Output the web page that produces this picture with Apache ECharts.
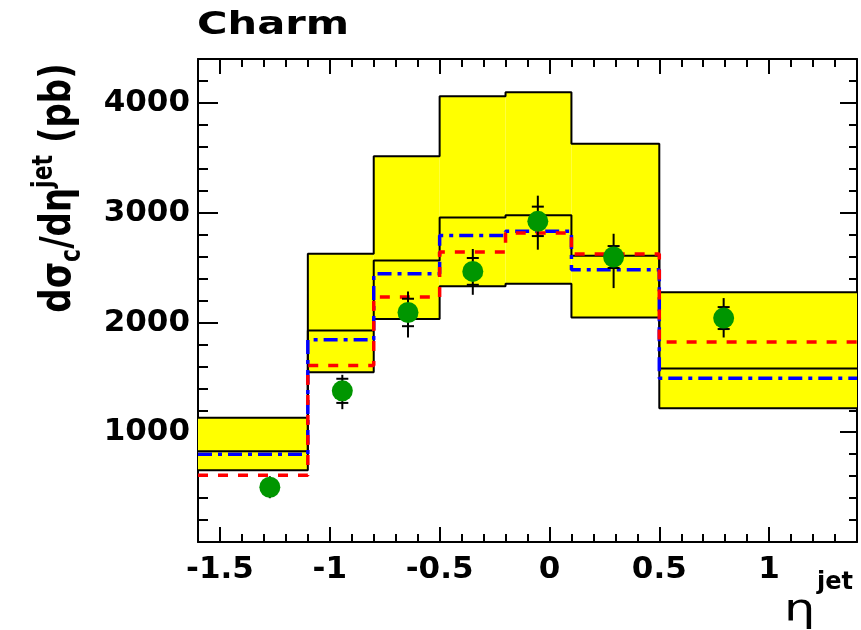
<!DOCTYPE html>
<html>
<head>
<meta charset="utf-8">
<script src="https://cdn.jsdelivr.net/npm/echarts@6/dist/echarts.min.js"></script>
<style>
html,body{margin:0;padding:0;background:#fff;}
#chart{width:861px;height:630px;}
</style>
</head>
<body>
<div id="chart"></div>
<script>
// ---- data ----
const binEdges     = [-1.6, -1.1, -0.8, -0.5, -0.2, 0.1, 0.5, 1.4];
const bandUpper    = [1133, 2626, 3513, 4061, 4097, 3629, 2275];
const bandCentral  = [827, 1927, 2565, 2957, 2976, 2608, 1580];
const bandLower    = [654, 1547, 2031, 2330, 2352, 2046, 1219];
const blueDashDot  = [800, 1842, 2444, 2793, 2830, 2480, 1492];
const redDashed    = [608, 1608, 2231, 2641, 2815, 2623, 1821];

const dataX        = [-1.273, -0.943, -0.644, -0.349, -0.053, 0.292, 0.793];
const dataY        = [499, 1377, 2091, 2465, 2921, 2596, 2040];
const statErr      = [60, 110, 125, 122, 134, 100, 100];
const totErrUp     = [100, 146, 191, 204, 234, 212, 182];
const totErrDown   = [100, 167, 228, 213, 258, 283, 177];

const xTickLabels  = [-1.5, -1, -0.5, 0, 0.5, 1];
const yTickLabels  = [1000, 2000, 3000, 4000];

// ---- helpers ----
function stepPoints(vals) {
  const pts = vals.map((v, i) => [binEdges[i], v]);
  pts.push([binEdges[binEdges.length - 1], vals[vals.length - 1]]);
  return pts;
}
const bandData = bandUpper.map((u, i) => [binEdges[i], binEdges[i + 1], bandLower[i], u]);
const errData = dataX.map((x, i) => [x, dataY[i], statErr[i], totErrUp[i], totErrDown[i]]);
const pointData = dataX.map((x, i) => [x, dataY[i]]);

const FONT = 'DejaVu Sans';
const tickLabelStyle = {fontFamily: FONT, fontWeight: 'bold', fontSize: 31, color: '#000'};

function isIn(list, v) { return list.some(t => Math.abs(t - v) < 1e-6); }

const chart = echarts.init(document.getElementById('chart'), null, {renderer: 'canvas'});

const baseX = {
  type: 'value', min: -1.6, max: 1.4, gridIndex: 0,
  splitLine: {show: false}
};
const baseY = {
  type: 'value', min: 0, max: 4400, interval: 1000, gridIndex: 0,
  splitLine: {show: false}
};

chart.setOption({
  animation: false,
  backgroundColor: '#fff',
  grid: {left: 198, right: 4, top: 59, bottom: 88, containLabel: false},
  xAxis: [
    Object.assign({}, baseX, {
      position: 'bottom', interval: 0.1,
      axisLine: {show: true, onZero: false, lineStyle: {color: '#000', width: 2}},
      axisTick: {show: true, inside: true, length: 8, lineStyle: {color: '#000', width: 2}},
      axisLabel: Object.assign({show: true, margin: 12,
        formatter: v => isIn(xTickLabels, v) ? String(+v.toFixed(1)) : ''}, tickLabelStyle)
    }),
    Object.assign({}, baseX, {
      position: 'bottom',
      axisLine: {show: false, onZero: false},
      axisTick: {show: true, inside: true, length: 15, customValues: xTickLabels, lineStyle: {color: '#000', width: 2}},
      axisLabel: {show: false}
    }),
    Object.assign({}, baseX, {
      position: 'top', interval: 0.1,
      axisLine: {show: true, onZero: false, lineStyle: {color: '#000', width: 2}},
      axisTick: {show: true, inside: true, length: 8, lineStyle: {color: '#000', width: 2}},
      axisLabel: {show: false}
    }),
    Object.assign({}, baseX, {
      position: 'top',
      axisLine: {show: false, onZero: false},
      axisTick: {show: true, inside: true, length: 15, customValues: xTickLabels, lineStyle: {color: '#000', width: 2}},
      axisLabel: {show: false}
    })
  ],
  yAxis: [
    Object.assign({}, baseY, {
      position: 'left',
      axisLine: {show: true, onZero: false, lineStyle: {color: '#000', width: 2}},
      axisTick: {show: true, inside: true, length: 20, lineStyle: {color: '#000', width: 2}},
      minorTick: {show: true, splitNumber: 5, length: 10, lineStyle: {color: '#000', width: 2}},
      axisLabel: Object.assign({show: true, margin: 8,
        formatter: v => isIn(yTickLabels, v) ? String(v) : ''}, tickLabelStyle)
    }),
    Object.assign({}, baseY, {
      position: 'right',
      axisLine: {show: true, onZero: false, lineStyle: {color: '#000', width: 2}},
      axisTick: {show: true, inside: true, length: 17, lineStyle: {color: '#000', width: 2}},
      minorTick: {show: true, splitNumber: 5, length: 8, lineStyle: {color: '#000', width: 2}},
      axisLabel: {show: false}
    })
  ],
  graphic: [
    {type: 'text', left: 197, top: 10, scaleX: 1.3, z: 100,
     style: {text: 'Charm', fontFamily: FONT, fontWeight: 'bold', fontSize: 32, fill: '#000'}},
    {type: 'text', x: 59, y: 188, rotation: Math.PI / 2, scaleY: 1.25, z: 100,
     style: {
       text: '{a|dσ}{c|c}{a|/dη}{j|jet}{a| (pb)}',
       align: 'center', verticalAlign: 'middle',
       rich: {
         a: {fontFamily: FONT, fontWeight: 'bold', fontSize: 34, lineHeight: 44, fill: '#000'},
         c: {fontFamily: FONT, fontWeight: 'bold', fontSize: 22, verticalAlign: 'bottom', lineHeight: 44, fill: '#000'},
         j: {fontFamily: FONT, fontWeight: 'bold', fontSize: 22, verticalAlign: 'top', fill: '#000'}
       }
     }},
    {type: 'text', x: 784, y: 592, scaleX: 1.3, z: 100,
     style: {text: 'η', fontFamily: FONT, fontSize: 38, fill: '#000'}},
    {type: 'text', x: 817, y: 571, z: 100,
     style: {text: 'jet', fontFamily: FONT, fontWeight: 'bold', fontSize: 24, fill: '#000'}}
  ],
  series: [
    {
      type: 'custom', name: 'band', xAxisIndex: 0, yAxisIndex: 0, z: 1,
      data: bandData,
      renderItem: function (params, api) {
        const p1 = api.coord([api.value(0), api.value(3)]);
        const p2 = api.coord([api.value(1), api.value(2)]);
        return {type: 'rect', shape: {x: p1[0], y: p1[1], width: p2[0] - p1[0], height: p2[1] - p1[1]},
                style: {fill: '#ffff00', stroke: null}};
      }
    },
    {type: 'line', name: 'upper', step: 'end', data: stepPoints(bandUpper), symbol: 'none', z: 2,
     lineStyle: {color: '#000', width: 2}},
    {type: 'line', name: 'lower', step: 'end', data: stepPoints(bandLower), symbol: 'none', z: 2,
     lineStyle: {color: '#000', width: 2}},
    {type: 'line', name: 'central', step: 'end', data: stepPoints(bandCentral), symbol: 'none', z: 2,
     lineStyle: {color: '#000', width: 2}},
    {type: 'line', name: 'blue', step: 'end', data: stepPoints(blueDashDot), symbol: 'none', z: 3,
     lineStyle: {color: '#0000ff', width: 3.5, type: [14, 6, 4, 6]}},
    {type: 'line', name: 'red', step: 'end', data: stepPoints(redDashed), symbol: 'none', z: 4,
     lineStyle: {color: '#ff0000', width: 3.5, type: [10, 10]}},
    {
      type: 'custom', name: 'errors', z: 5, data: errData,
      renderItem: function (params, api) {
        const x = api.value(0), y = api.value(1), s = api.value(2), up = api.value(3), dn = api.value(4);
        const top = api.coord([x, y + up]);
        const bot = api.coord([x, y - dn]);
        const st = api.coord([x, y + s]);
        const sb = api.coord([x, y - s]);
        const hw = 6;
        const ls = {stroke: '#000', lineWidth: 2};
        return {type: 'group', children: [
          {type: 'line', shape: {x1: top[0], y1: top[1], x2: bot[0], y2: bot[1]}, style: ls},
          {type: 'line', shape: {x1: st[0] - hw, y1: st[1], x2: st[0] + hw, y2: st[1]}, style: ls},
          {type: 'line', shape: {x1: sb[0] - hw, y1: sb[1], x2: sb[0] + hw, y2: sb[1]}, style: ls}
        ]};
      }
    },
    {type: 'scatter', name: 'data', data: pointData, symbol: 'circle', symbolSize: 21, z: 6,
     itemStyle: {color: '#009600', opacity: 1}}
  ]
});
</script>
</body>
</html>
